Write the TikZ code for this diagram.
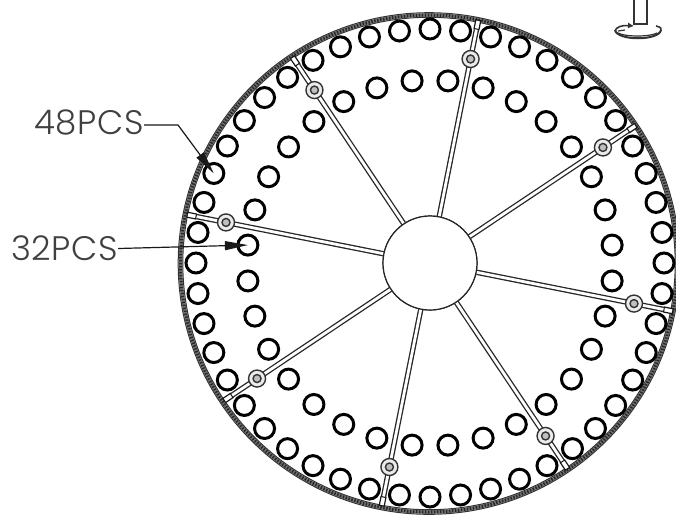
\documentclass[tikz,border=0pt]{standalone}
\usepackage{fontspec}
\usetikzlibrary{arrows.meta}
\newfontfamily\cadfont[LetterSpace=2]{Poppins Light}
\tikzset{
  x=1pt,y=-1pt,
  holeo/.style={circle,draw=black,line width=3pt,fill=white,minimum size=20pt,inner sep=0pt},
  hubnode/.style={circle,draw=black!85,line width=1.2pt,fill=white,minimum size=94pt,inner sep=0pt},
  spoke/.style={draw=black!85,line width=1.3pt,double=white,double distance=2.8pt},
  collar/.style={circle,draw=black!80,line width=1.4pt,fill=black!8,minimum size=17pt,inner sep=0pt},
  collarin/.style={circle,draw=black!80,line width=1.4pt,fill=black!25,minimum size=8pt,inner sep=0pt},
  endpad/.style={rectangle,draw=black!90,line width=1.2pt,fill=white,minimum width=9pt,minimum height=5pt,inner sep=0pt},
  lab/.style={font=\cadfont\fontsize{34}{34}\selectfont,text=black!75,inner sep=0pt,anchor=center},
  leader/.style={draw=black!90,line width=1.2pt,-{Triangle[length=23pt,width=9pt]}},
  ringline/.style={draw=black!80,line width=1pt},
  iconline/.style={draw=black!80,line width=1.6pt}
}
\begin{document}
\begin{tikzpicture}
\useasboundingbox (0,0) rectangle (676,515);
% outer shell
\draw[draw=black!55,line width=3.6pt] (429,263.5) circle[radius=248.5];
\draw[draw=black!85,line width=3pt,dash pattern=on 1.4pt off 1.6pt] (429,263.5) circle[radius=248.5];
\draw[ringline] (429,263.5) circle[radius=250.8];
\draw[ringline] (429,263.5) circle[radius=246.2];
% spoke ends, hub, spokes
\node[hubnode] (hub) at (430,263) {};
\foreach \k in {0,...,7}{
  \pgfmathsetmacro{\a}{78.75-45*\k}
  \pgfmathsetmacro{\ex}{430+243*cos(\a)}
  \pgfmathsetmacro{\ey}{263-243*sin(\a)}
  \pgfmathsetmacro{\cx}{430+208*cos(\a)}
  \pgfmathsetmacro{\cy}{263-208*sin(\a)}
  \node[endpad,rotate=\a] (end\k) at (\ex,\ey) {};
  \draw[spoke] (hub) -- (end\k);
  \node[collar] (col\k) at (\cx,\cy) {};
  \node[collarin] (cin\k) at (\cx,\cy) {};
}
\node[hubnode] (hubtop) at (430,263) {};
% outer 48 holes
\foreach \k in {1,...,48}{
  \pgfmathsetmacro{\a}{7.5*\k}
  \pgfmathsetmacro{\hx}{430+234*cos(\a)}
  \pgfmathsetmacro{\hy}{263-234*sin(\a)}
  \node[holeo] (o\k) at (\hx,\hy) {};
}
% inner 32 holes
\foreach \k in {1,...,32}{
  \pgfmathsetmacro{\a}{5.625+11.25*(\k-1)}
  \pgfmathsetmacro{\hx}{430+183*cos(\a)}
  \pgfmathsetmacro{\hy}{263-183*sin(\a)}
  \node[holeo] (i\k) at (\hx,\hy) {};
}
% labels and leaders
\node[lab] (l48) at (89,122.5) {48PCS};
\node[lab] (l32) at (64.5,248.5) {32PCS};
\coordinate (k48) at (178,125);
\draw[leader] (l48.east |- k48) -- (k48) -- (o21.center);
\draw[leader] (l32.east) -- (i16.center);
% rotation symbol
\node[rectangle,draw=black!80,line width=1.2pt,minimum width=13pt,minimum height=28pt,inner sep=0pt] (post) at (640.5,10) {};
\draw[iconline,line width=2pt] (615,30) .. controls (617,41) and (659,41) .. (661,30);
\draw[iconline,line width=1.2pt] (618,33) .. controls (625,37) and (650,37) .. (657,33);
\draw[iconline,-{Latex[length=6pt,width=6pt]}] (615,31) .. controls (616,27) and (622,25) .. (634,26);
\draw[iconline] (656,26) .. controls (661,27) and (662,29) .. (661,31);
\draw[iconline,line width=1.2pt] (618,31) -- (625,30);
\end{tikzpicture}
\end{document}
